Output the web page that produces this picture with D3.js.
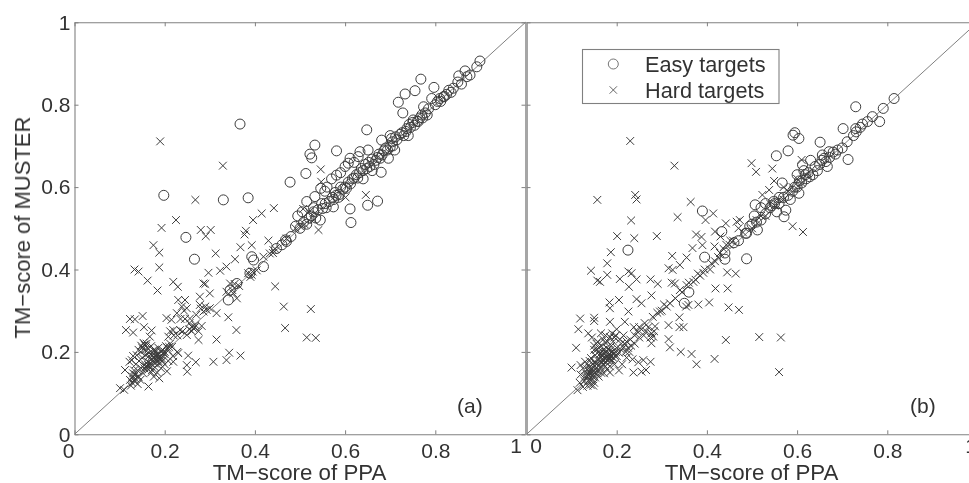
<!DOCTYPE html>
<html>
<head>
<meta charset="utf-8">
<script src="https://cdn.jsdelivr.net/npm/d3@7"></script>
<style>
body { margin: 0; background: #fff; overflow: hidden; }
text { font-family: "Liberation Sans", Arial, sans-serif; fill: #333; }
</style>
</head>
<body>
<svg width="969" height="483"></svg>
<script>
const tickValues = [0, 0.2, 0.4, 0.6, 0.8, 1];
const xTitle = "TM\u2212score of PPA";
const yTitle = "TM\u2212score of MUSTER";
const legendLabels = ["Easy targets", "Hard targets"];

// panel (a) as [PPA, MUSTER]
const hardA = [[.19,.711],[.329,.652],[.268,.569],[.193,.501],[.225,.52],[.28,.496],[.302,.496],[.291,.481],[.38,.494],[.377,.485],[.396,.52],[.415,.536],[.442,.549],[.43,.47],
[.175,.459],[.188,.441],[.133,.4],[.142,.395],[.188,.405],[.162,.373],[.184,.349],[.219,.37],[.229,.358],[.313,.439],[.297,.392],[.286,.366],[.323,.397],[.337,.407],[.356,.425],[.368,.454],[.393,.459],[.445,.359],[.464,.31],[.467,.258],
[.123,.28],[.134,.279],[.151,.287],[.114,.253],[.13,.247],[.154,.26],[.171,.252],[.167,.237],[.112,.156],[.101,.112],[.11,.108],[.164,.116],[.123,.132],[.13,.148],[.142,.14],[.127,.18],[.138,.192],
[.153,.222],[.148,.215],[.158,.214],[.163,.208],[.17,.214],[.178,.205],[.186,.21],[.195,.205],[.203,.214],[.212,.22],[.216,.212],[.208,.203],[.198,.196],[.19,.19],[.183,.194],[.176,.188],[.17,.181],[.163,.176],[.156,.17],[.16,.162],[.168,.166],[.178,.172],[.186,.178],[.194,.184],[.18,.184],[.174,.196],[.166,.198],[.158,.192],[.15,.186],[.143,.178],[.136,.17],[.13,.19],[.122,.176],[.148,.16],[.172,.156],[.183,.15],[.192,.16],[.2,.17],[.208,.178],[.218,.19],[.228,.2],[.205,.153],[.176,.14],[.188,.136],[.152,.148],[.135,.135],[.128,.125],[.14,.122],[.146,.132],[.125,.118],
[.155,.218],[.15,.21],[.16,.22],[.156,.205],[.147,.2],[.142,.205],[.165,.19],[.172,.19],[.18,.19],[.185,.185],[.19,.183],[.195,.178],[.188,.172],[.181,.177],[.175,.178],[.168,.172],[.163,.168],[.158,.165],[.155,.16],[.164,.157],[.17,.15],[.178,.163],[.184,.192],[.192,.2],[.2,.195],[.206,.21],[.21,.212],[.2,.2],[.193,.192],[.187,.186],[.18,.2],[.175,.204],[.135,.145],[.128,.14],[.14,.155],[.132,.155],[.134,.128],[.13,.135],[.22,.24],[.228,.24],[.212,.25],[.24,.25],[.235,.28],[.245,.28],[.255,.27],[.27,.29],[.28,.305],[.29,.31],[.243,.3],[.255,.255],[.26,.25],[.268,.265],[.275,.25],
[.23,.326],[.245,.326],[.238,.31],[.249,.306],[.227,.294],[.215,.278],[.204,.282],[.208,.237],[.219,.253],[.234,.253],[.256,.281],[.264,.257],[.249,.241],[.275,.229],[.282,.263],[.267,.26],[.278,.334],[.278,.314],[.3,.342],[.293,.302],[.315,.294],[.341,.284],[.359,.253],[.315,.23],[.343,.198],[.337,.18],[.368,.191],[.308,.176],[.269,.175],[.252,.191],[.219,.176],[.23,.197],[.249,.168],[.25,.152],[.345,.366],[.352,.342],[.36,.33],[.385,.391],[.404,.398],[.433,.439],[.441,.447],[.419,.431],[.393,.387],[.337,.346],[.3,.306],[.286,.298],[.26,.261],[.29,.365],[.35,.35],[.355,.365],[.365,.36],[.39,.382],[.395,.395],[.44,.44],[.445,.45],
[.524,.304],[.515,.235],[.535,.234],[.546,.643],[.547,.613],[.646,.581],[.601,.575],[.507,.547],[.541,.496],[.5,.505],[.52,.54],[.51,.51],[.53,.52],[.47,.475],[.49,.5]];

const easyA = [[.367,.753],[.198,.58],[.33,.569],[.385,.574],[.247,.478],[.266,.425],[.341,.326],[.36,.366],[.345,.35],[.389,.391],[.393,.431],[.397,.423],[.419,.407],[.47,.468],[.448,.451],[.468,.472],[.478,.612],
[.899,.906],[.892,.892],[.866,.882],[.852,.87],[.877,.872],[.768,.862],[.797,.842],[.755,.834],[.733,.826],[.718,.806],[.728,.78],[.648,.739],[.792,.815],[.818,.819],[.84,.84],[.774,.795],[.762,.759],[.751,.763],[.681,.714],[.703,.718],[.533,.702],[.522,.68],[.526,.671],[.581,.688],[.513,.633],[.633,.686],[.651,.69],[.611,.67],[.607,.658],[.629,.674],[.581,.629],[.68,.636],[.696,.67],[.672,.566],[.65,.556],[.611,.547],[.613,.514],[.533,.577],[.546,.597],[.574,.552],
[.5,.5],[.49,.505],[.508,.515],[.515,.51],[.525,.53],[.535,.525],[.54,.545],[.55,.548],[.556,.56],[.565,.565],[.572,.575],[.58,.58],[.587,.582],[.59,.6],[.6,.6],[.607,.612],[.612,.608],[.62,.622],[.625,.63],[.632,.635],[.64,.64],[.645,.655],[.655,.65],[.66,.668],[.668,.665],[.675,.68],[.682,.678],[.69,.695],[.7,.698],[.705,.71],[.715,.715],[.722,.728],[.73,.725],[.737,.742],[.745,.745],[.75,.757],[.76,.76],[.77,.775],[.778,.78],[.785,.79],[.8,.8],[.81,.815],[.825,.825],[.835,.83],[.85,.855],[.858,.85],[.87,.868],
[.56,.6],[.6,.65],[.62,.66],[.66,.64],[.57,.62],[.555,.59],[.59,.635],[.515,.565],[.53,.55],[.495,.53],[.505,.54],[.48,.48],[.46,.46],[.545,.52],[.64,.62],[.7,.725],[.71,.69],[.74,.725],
[.575,.57],[.578,.587],[.585,.575],[.595,.595],[.603,.597],[.616,.62],[.628,.622],[.636,.645],[.648,.645],[.652,.66],[.664,.655],[.672,.672],[.678,.67],[.686,.688],[.694,.69],[.706,.7],[.712,.722],[.726,.732],[.735,.735],[.742,.752],[.754,.75],[.766,.768],[.772,.768],[.782,.775],[.805,.808],[.812,.808],[.82,.82],[.83,.835],[.558,.55],[.548,.56],[.52,.525],[.53,.54]];

// panel (b)
const hardB = [[.23,.712],[.328,.652],[.157,.569],[.241,.581],[.244,.57],[.364,.564],[.414,.536],[.232,.519],[.335,.527],[.397,.52],[.201,.481],[.239,.476],[.289,.481],[.376,.485],[.388,.479],[.499,.658],[.509,.637],[.442,.512],[.466,.516],[.473,.52],[.418,.492],[.43,.48],[.452,.47],[.545,.645],[.549,.615],[.59,.505],[.613,.491],[.538,.593],[.523,.581],[.61,.666],
[.187,.442],[.179,.415],[.143,.397],[.163,.37],[.157,.373],[.179,.387],[.207,.377],[.226,.395],[.233,.391],[.244,.376],[.227,.358],[.275,.376],[.291,.365],[.277,.337],[.244,.328],[.255,.318],[.184,.32],[.185,.306],[.205,.326],[.119,.281],[.15,.283],[.15,.275],[.185,.273],[.226,.298],[.218,.273],[.115,.255],[.137,.245],[.11,.21],[.1,.162],[.113,.107],
[.323,.433],[.315,.403],[.324,.399],[.34,.411],[.355,.429],[.368,.452],[.39,.459],[.417,.456],[.322,.368],[.329,.366],[.419,.354],[.446,.354],[.445,.393],[.464,.39],[.448,.308],[.471,.302],[.405,.32],[.381,.315],[.359,.314],[.354,.31],[.315,.231],[.318,.211],[.342,.2],[.366,.195],[.377,.17],[.417,.183],[.442,.229],[.516,.236],[.564,.235],[.56,.151],[.315,.265],[.339,.26],[.348,.26],[.339,.284],[.237,.15],[.255,.152],[.265,.156],[.275,.176],[.259,.18],[.277,.221],[.281,.237],[.277,.245],
[.296,.298],[.311,.31],[.318,.318],[.34,.35],[.355,.362],[.37,.37],[.385,.385],[.392,.392],[.407,.4],[.429,.44],[.443,.46],[.458,.47],[.33,.33],[.3,.3],[.345,.345],[.36,.368],[.375,.375],[.38,.39],[.395,.4],[.41,.415],[.418,.42],[.425,.43],[.437,.45],[.45,.46],[.305,.315],[.29,.295],[.28,.285],[.47,.5],[.48,.49],[.5,.5],[.51,.52],[.52,.53],[.53,.53],[.54,.56],[.55,.555],[.56,.57],[.57,.57],[.58,.59],[.59,.6],[.6,.62],[.61,.61],[.57,.6],[.62,.63],
[.178,.188],[.172,.196],[.184,.196],[.19,.18],[.196,.19],[.165,.188],[.17,.178],[.158,.18],[.16,.2],[.152,.192],[.15,.205],[.165,.215],[.175,.222],[.188,.215],[.2,.21],[.205,.198],[.21,.22],[.155,.22],[.185,.236],[.198,.24],[.145,.235],[.2,.255],[.215,.24],[.222,.225],[.232,.215],[.24,.24],[.25,.26],[.255,.255],[.262,.27],[.27,.26],[.285,.262],[.283,.25],[.238,.26],[.228,.2],[.222,.186],[.235,.182],[.248,.175],[.212,.17],[.205,.155],
[.175,.185],[.18,.19],[.185,.19],[.182,.18],[.176,.175],[.168,.183],[.163,.195],[.17,.205],[.178,.21],[.182,.205],[.19,.2],[.194,.198],[.188,.19],[.155,.205],[.16,.21],[.15,.215],[.158,.225],[.17,.23],[.18,.225],[.192,.225],[.195,.235],[.207,.23],[.215,.21],[.225,.21],[.24,.22],[.25,.235],[.245,.25],[.26,.24],[.265,.25],[.275,.235],
[.145,.16],[.138,.168],[.152,.166],[.13,.176],[.125,.16],[.14,.15],[.148,.145],[.158,.155],[.165,.16],[.175,.165],[.185,.165],[.195,.17],[.135,.14],[.128,.13],[.142,.13],[.15,.125],[.16,.14],[.172,.148],[.185,.15],[.12,.145],[.118,.125],[.135,.118],[.125,.115],[.14,.178],[.12,.168],
[.142,.155],[.148,.152],[.152,.158],[.156,.148],[.145,.142],[.138,.145],[.14,.162],[.147,.17],[.155,.173],[.162,.168],[.15,.175],[.143,.185],[.135,.158],[.132,.148],[.13,.14],[.137,.13],[.145,.135],[.152,.138],[.165,.15],[.17,.17],[.178,.158],[.148,.118],[.142,.12],
[.172,.186],[.178,.18],[.184,.184],[.192,.186],[.166,.176],[.186,.204],[.176,.2],[.168,.195],[.2,.19],[.198,.2],[.21,.205],[.22,.2],[.218,.22],[.23,.23],[.19,.245],[.175,.24],[.165,.245]];

const easyB = [[.39,.542],[.433,.492],[.488,.488],[.507,.557],[.225,.447],[.395,.43],[.488,.426],[.44,.44],[.36,.345],[.35,.318],[.44,.425],
[.815,.815],[.791,.791],[.73,.795],[.767,.771],[.783,.759],[.756,.759],[.745,.753],[.702,.742],[.731,.734],[.73,.742],[.595,.732],[.591,.726],[.604,.718],[.651,.709],[.58,.688],[.554,.676],[.711,.71],[.69,.69],[.713,.667],[.656,.678],[.671,.686],[.664,.662],[.667,.65],[.567,.61],[.612,.654],[.544,.555],[.575,.544],[.571,.528],[.486,.488],[.512,.496],[.604,.585],
[.5,.51],[.52,.52],[.53,.535],[.54,.55],[.55,.56],[.56,.56],[.57,.575],[.58,.58],[.59,.59],[.595,.6],[.61,.61],[.62,.62],[.625,.635],[.635,.63],[.64,.65],[.65,.655],[.66,.67],[.68,.685],[.7,.695],[.725,.725],[.74,.745],[.52,.55],[.53,.56],[.505,.53],[.47,.47],[.46,.465],[.6,.63],[.615,.64],[.63,.665],[.585,.57],[.555,.54],
[.6,.6],[.605,.615],[.618,.63],[.628,.625],[.645,.64],[.655,.665],[.672,.672],[.685,.68],[.56,.575],[.548,.565],[.51,.515],[.495,.505]];

const svg = d3.select("svg");
const outerTop = 22.3, outerBottom = 434.3;
const y = d3.scaleLinear().domain([0, 1]).range([outerBottom, outerTop]);
const lineColor = "#808080", markColor = "#3c3c3c";

// soften everything a little, the original is a blurry scan
svg.append("defs").append("filter").attr("id", "soft")
    .append("feGaussianBlur").attr("stdDeviation", 0.35);

function panel(left, right, hard, easy, isFirst, tag, tagX) {
    const x = d3.scaleLinear().domain([0, 1]).range([left, right]);
    const g = svg.append("g").attr("filter", "url(#soft)");

    const styleAxis = a => {
        a.selectAll("path").attr("stroke", lineColor).attr("stroke-width", 1.1);
        a.selectAll("line").attr("stroke", lineColor);
        a.selectAll("text").attr("font-size", 21).attr("fill", "#333");
    };
    // the two panels share a thick pale rule in the middle
    const styleMiddle = a => a.selectAll("path").attr("stroke", "#a6a6a6").attr("stroke-width", 2);

    g.append("g").attr("transform", `translate(0,${outerBottom})`)
        .call(d3.axisBottom(x).tickValues(tickValues).tickSize(-4).tickSizeOuter(0).tickPadding(9)
            .tickFormat(d3.format("~g")))
        .call(styleAxis)
        .selectAll(".tick text")
        .attr("dx", d => d === 1 ? (isFirst ? -10 : -7) : (d === 0 ? (isFirst ? -6.5 : 9) : 0))
        .attr("transform", d => (d === 1 || (!isFirst && d === 0)) ? "translate(0,-5)" : null);
    g.append("g").attr("transform", `translate(0,${outerTop})`)
        .call(d3.axisTop(x).tickValues(tickValues).tickSize(-4).tickSizeOuter(0).tickFormat(""))
        .call(styleAxis);
    const leftAxis = g.append("g").attr("transform", `translate(${left},0)`)
        .call(d3.axisLeft(y).tickValues(tickValues).tickSize(-4).tickSizeOuter(0).tickPadding(4)
            .tickFormat(isFirst ? d3.format("~g") : ""))
        .call(styleAxis);
    if (!isFirst) leftAxis.call(styleMiddle);
    const rightAxis = g.append("g").attr("transform", `translate(${right},0)`)
        .call(d3.axisRight(y).tickValues(tickValues).tickSize(-4).tickSizeOuter(0).tickFormat(""))
        .call(styleAxis);
    if (isFirst) rightAxis.call(styleMiddle);

    g.append("line")
        .attr("x1", x(0)).attr("y1", y(0)).attr("x2", x(1)).attr("y2", y(1))
        .attr("stroke", lineColor).attr("stroke-width", 1);

    const markers = g.append("g").attr("fill", "none").attr("stroke", markColor).attr("stroke-width", 1);
    markers.selectAll(".hard").data(hard).enter().append("path")
        .attr("class", "hard")
        .attr("d", "M-3.9,-3.9L3.9,3.9M-3.9,3.9L3.9,-3.9")
        .attr("transform", d => `translate(${x(d[0])},${y(d[1])})`);
    markers.selectAll(".easy").data(easy).enter().append("circle")
        .attr("class", "easy")
        .attr("r", 5)
        .attr("cx", d => x(d[0]))
        .attr("cy", d => y(d[1]));

    g.append("text").attr("x", (left + 451 / 2) - 0.5).attr("y", 480)
        .attr("text-anchor", "middle").attr("font-size", 22.3).text(xTitle);
    g.append("text").attr("x", tagX).attr("y", 412.5).attr("font-size", 21).text(tag);
}

panel(74.5, 525.5, hardA, easyA, true, "(a)", 457);
panel(526.5, 977.5, hardB, easyB, false, "(b)", 910);

svg.append("text")
    .attr("transform", "translate(30,227.5) rotate(-90)")
    .attr("filter", "url(#soft)")
    .attr("text-anchor", "middle").attr("font-size", 22).text(yTitle);

// legend
const legend = svg.append("g").attr("filter", "url(#soft)");
legend.append("rect").attr("x", 582.5).attr("y", 49.5).attr("width", 196.5).attr("height", 54)
    .attr("fill", "#fff").attr("stroke", lineColor).attr("stroke-width", 1.1);
legend.append("circle").attr("cx", 613.3).attr("cy", 64).attr("r", 5)
    .attr("fill", "none").attr("stroke", "#666").attr("stroke-width", 0.9);
legend.append("path").attr("transform", "translate(613.3,90)")
    .attr("d", "M-3.7,-3.7L3.7,3.7M-3.7,3.7L3.7,-3.7")
    .attr("fill", "none").attr("stroke", "#555").attr("stroke-width", 0.9);
legend.selectAll("text").data(legendLabels).enter().append("text")
    .attr("x", 645).attr("y", (d, i) => 72 + i * 25.5).attr("font-size", 21.7).text(d => d);
</script>
</body>
</html>
